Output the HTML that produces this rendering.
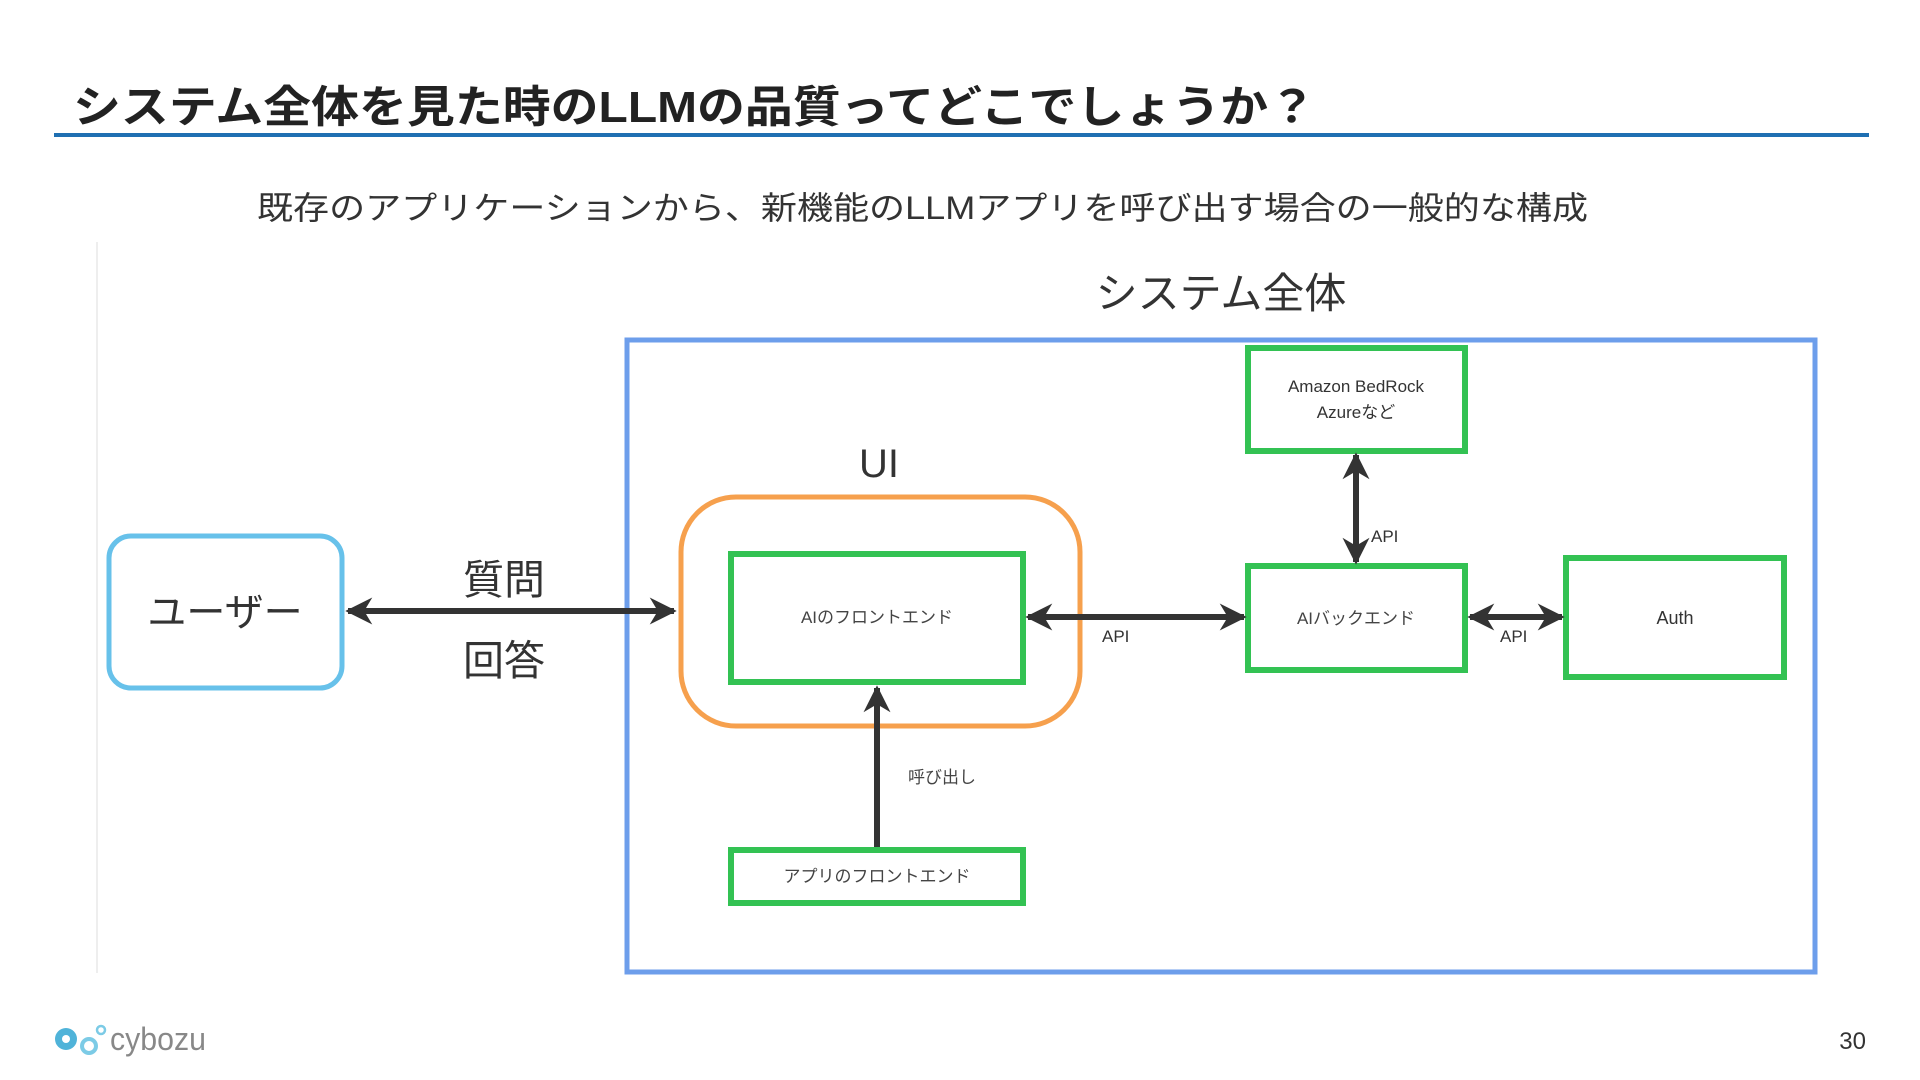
<!DOCTYPE html>
<html><head><meta charset="utf-8"><style>
html,body{margin:0;padding:0;background:#fff;width:1920px;height:1080px;overflow:hidden}
svg{display:block}
text{font-family:"Liberation Sans","Noto Sans CJK JP",sans-serif}
</style></head><body>
<svg width="1920" height="1080" viewBox="0 0 1920 1080" xmlns="http://www.w3.org/2000/svg">
<defs>
<marker id="ah" viewBox="0 0 10 10" refX="9" refY="5" markerWidth="4.5" markerHeight="4.5" orient="auto-start-reverse">
<path d="M0,0 L10,5 L0,10 L3,5 Z" fill="#333"/>
</marker>
</defs>
<text x="73" y="122" font-size="44" font-weight="bold" fill="#222" textLength="1243" lengthAdjust="spacingAndGlyphs">システム全体を見た時のLLMの品質ってどこでしょうか？</text>
<rect x="54" y="133" width="1815" height="4" fill="#1f6fb2"/>
<text x="257" y="219" font-size="32" fill="#333" textLength="1331" lengthAdjust="spacingAndGlyphs">既存のアプリケーションから、新機能のLLMアプリを呼び出す場合の一般的な構成</text>
<line x1="97" y1="242" x2="97" y2="973" stroke="#eee" stroke-width="2"/>
<text x="1221" y="308" font-size="42" fill="#333" text-anchor="middle">システム全体</text>
<rect x="627" y="340" width="1188" height="632" fill="none" stroke="#6d9eeb" stroke-width="5"/>
<rect x="109" y="536" width="233" height="152" rx="22" fill="none" stroke="#67c1ea" stroke-width="5"/>
<text x="225" y="626" font-size="39" fill="#333" text-anchor="middle">ユーザー</text>
<text x="504" y="594" font-size="41" fill="#333" text-anchor="middle">質問</text>
<text x="504" y="675" font-size="41" fill="#333" text-anchor="middle">回答</text>
<line x1="348" y1="611" x2="674" y2="611" stroke="#333" stroke-width="6" marker-start="url(#ah)" marker-end="url(#ah)"/>
<text x="879" y="477" font-size="40" fill="#333" text-anchor="middle">UI</text>
<rect x="681" y="497" width="399" height="229" rx="55" fill="none" stroke="#f6a04d" stroke-width="5"/>
<rect x="731" y="554" width="292" height="128" fill="none" stroke="#33c253" stroke-width="6"/>
<text x="877" y="623" font-size="17" fill="#444" text-anchor="middle">AIのフロントエンド</text>
<rect x="731" y="850" width="292" height="53" fill="none" stroke="#33c253" stroke-width="6"/>
<text x="877" y="882" font-size="17" fill="#444" text-anchor="middle">アプリのフロントエンド</text>
<line x1="877" y1="847" x2="877" y2="688" stroke="#333" stroke-width="6" marker-end="url(#ah)"/>
<text x="908" y="783" font-size="17" fill="#444">呼び出し</text>
<rect x="1248" y="566" width="217" height="104" fill="none" stroke="#33c253" stroke-width="6"/>
<text x="1356" y="624" font-size="17" fill="#444" text-anchor="middle">AIバックエンド</text>
<line x1="1028" y1="617" x2="1244" y2="617" stroke="#333" stroke-width="6" marker-start="url(#ah)" marker-end="url(#ah)"/>
<text x="1102" y="642" font-size="17" fill="#333">API</text>
<rect x="1248" y="348" width="217" height="103" fill="none" stroke="#33c253" stroke-width="6"/>
<text x="1356" y="392" font-size="17" fill="#333" text-anchor="middle">Amazon BedRock</text>
<text x="1356" y="418" font-size="17" fill="#333" text-anchor="middle">Azureなど</text>
<line x1="1356" y1="455" x2="1356" y2="562" stroke="#333" stroke-width="6" marker-start="url(#ah)" marker-end="url(#ah)"/>
<text x="1371" y="542" font-size="17" fill="#333">API</text>
<rect x="1566" y="558" width="218" height="119" fill="none" stroke="#33c253" stroke-width="6"/>
<text x="1675" y="624" font-size="18" fill="#333" text-anchor="middle">Auth</text>
<line x1="1470" y1="617" x2="1562" y2="617" stroke="#333" stroke-width="6" marker-start="url(#ah)" marker-end="url(#ah)"/>
<text x="1500" y="642" font-size="17" fill="#333">API</text>
<circle cx="66" cy="1039" r="11" fill="#4fb3d9"/>
<circle cx="66" cy="1039" r="4" fill="#fff"/>
<circle cx="89" cy="1046" r="7" fill="none" stroke="#7ccbe6" stroke-width="4"/>
<circle cx="101" cy="1030" r="4" fill="none" stroke="#7ccbe6" stroke-width="2.5"/>
<text x="110" y="1050" font-size="32" fill="#888" textLength="96" lengthAdjust="spacingAndGlyphs">cybozu</text>
<text x="1866" y="1049" font-size="24" fill="#333" text-anchor="end">30</text>
</svg>
</body></html>
